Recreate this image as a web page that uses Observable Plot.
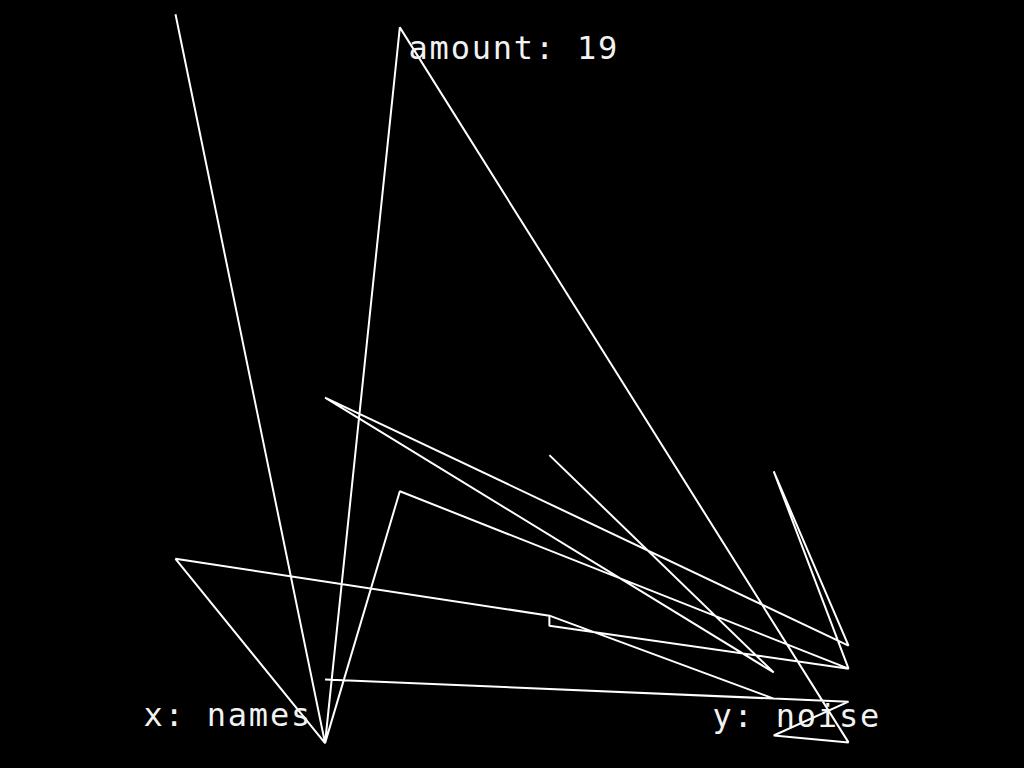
<!DOCTYPE html>
<html>
<head>
    <meta charset="UTF-8">
    <title>amount: 19</title>
    <script src="https://cdn.jsdelivr.net/npm/d3@7"></script>
    <script src="https://cdn.jsdelivr.net/npm/@observablehq/plot@0.6"></script>
    <style>
        html, body { margin: 0; padding: 0; background: #000; overflow: hidden; }
        #graph svg { display: block; }
        #graph text { letter-spacing: 1.8px; }
    </style>
</head>
<body>
    <div id="graph"></div>
    <script>
        // names on x, noise on y (0..1), path in drawing order
        const names = ["Ada", "Ben", "Cy", "Dee", "Eli", "Fay", "Gus", "Hal", "Ivy", "Jo"];
        const pathNames = ["Ada", "Cy", "Dee", "Jo", "Ivy", "Jo", "Cy", "Ivy", "Fay", "Fay", "Jo",
                           "Dee", "Cy", "Ada", "Fay", "Fay", "Jo", "Ivy", "Jo", "Cy", "Ivy", "Fay"];
        const noise = [0.982, 0.033, 0.965, 0.034, 0.043, 0.087, 0.116, 0.091, 0.199, 0.186, 0.130,
                       0.361, 0.033, 0.273, 0.199, 0.186, 0.130, 0.387, 0.160, 0.483, 0.125, 0.408];
        const amount = 19;

        const data = pathNames.map((n, i) => ({ name: n, noise: noise[i] }));

        const font = "'DejaVu Sans Mono', monospace";

        const plot = Plot.plot({
            width: 1024,
            height: 768,
            margin: 0,
            style: { background: "#000", color: "#fff" },
            x: { type: "point", domain: names, range: [175, 848], padding: 0, round: false, axis: null },
            y: { domain: [0, 1], range: [768, 0], axis: null },
            marks: [
                Plot.line(data, {
                    x: "name",
                    y: "noise",
                    stroke: "#fff",
                    strokeWidth: 2,
                    strokeLinejoin: "miter",
                    strokeLinecap: "butt"
                }),
                Plot.text(["amount: " + amount], {
                    frameAnchor: "top-left", dx: 408, dy: 58, lineAnchor: "bottom",
                    textAnchor: "start", fill: "#f2f2f2", fontSize: 32, fontFamily: font
                }),
                Plot.text(["x: names"], {
                    frameAnchor: "top-left", dx: 143, dy: 725, lineAnchor: "bottom",
                    textAnchor: "start", fill: "#f2f2f2", fontSize: 32, fontFamily: font
                }),
                Plot.text(["y: noise"], {
                    frameAnchor: "top-left", dx: 712, dy: 726, lineAnchor: "bottom",
                    textAnchor: "start", fill: "#f2f2f2", fontSize: 32, fontFamily: font
                })
            ]
        });

        document.querySelector("#graph").append(plot);
    </script>
</body>
</html>
